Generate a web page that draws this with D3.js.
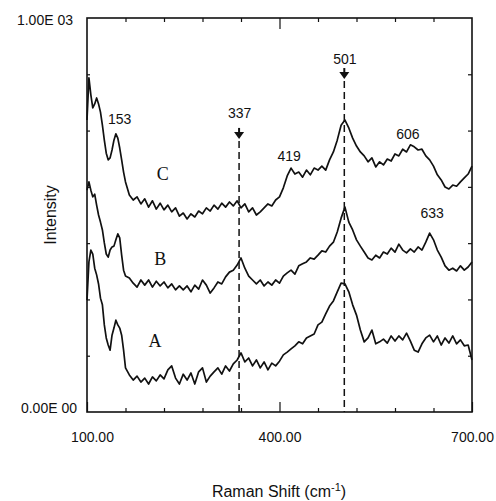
<!DOCTYPE html>
<html>
<head>
<meta charset="utf-8">
<script src="https://cdn.jsdelivr.net/npm/d3@7"></script>
<style>
  html, body { margin: 0; padding: 0; background: #fff; }
  svg { display: block; }
  .tick-lbl { font-family: "Liberation Sans", Arial, sans-serif; fill: #111; }
  .peak-lbl { font-family: "Liberation Sans", Arial, sans-serif; font-size: 14px; fill: #111; }
  .curve-lbl { font-family: "Liberation Serif", "Times New Roman", serif; font-size: 18px; fill: #111; }
  .axis-title { font-family: "Liberation Sans", Arial, sans-serif; font-size: 16px; fill: #111; }
</style>
</head>
<body>
<div id="chart"></div>
<script>
// Raman spectra A, B, C
const xTickValues = [100, 160, 220, 280, 340, 400, 460, 520, 580, 640, 700];
const xLabelled = [100, 400, 700];
const xTickLabels = ["100.00", "400.00", "700.00"];
const yTickLabels = ["0.00E 00", "1.00E 03"];

// sample positions (cm-1), shared by all three spectra
const shift = [100, 103, 106, 109, 112, 115, 118, 121, 124, 127, 130, 133, 136, 139, 142, 145, 148, 151, 154, 157, 160,
  166, 172, 178, 184, 190, 196, 202, 208, 214, 220, 226, 232, 238, 244, 250, 256, 262, 268, 274, 280,
  286, 292, 298, 304, 310, 316, 322, 328, 334, 340, 346, 352, 358, 364, 370, 376, 382, 388, 394, 400,
  406, 412, 418, 424, 430, 436, 442, 448, 454, 460, 466, 472, 478, 484, 490, 496, 502, 508, 514, 520,
  526, 532, 538, 544, 550, 556, 562, 568, 574, 580, 586, 592, 598, 604, 610, 616, 622, 628, 634, 640,
  646, 652, 658, 664, 670, 676, 682, 688, 694, 700];

const intensityA = [284, 381, 411, 401, 365, 348, 325, 289, 272, 221, 188, 170, 157, 195, 213, 233, 221, 213, 195, 157, 112,
  94, 81, 91, 76, 86, 71, 89, 79, 94, 84,
  107, 117, 86, 71, 96, 81, 99, 71, 102, 112,
  76, 91, 102, 112, 96, 117, 104, 122, 132, 150,
  127, 137, 117, 132, 112, 127, 107, 124, 117, 129,
  145, 152, 160, 168, 178, 173, 188, 193, 198, 221,
  228, 249, 269, 282, 305, 327, 325, 305, 272, 246,
  208, 178, 188, 208, 173, 178, 185, 175, 193, 180,
  193, 183, 200, 180, 157, 152, 173, 188, 195, 178,
  193, 170, 188, 175, 193, 173, 183, 168, 170, 132];

const intensityB = [563, 584, 563, 546, 553, 525, 500, 482, 462, 429, 401, 393, 411, 419, 421, 437, 452, 442, 398, 360, 345,
  340, 327, 317, 335, 322, 335, 317, 332, 320, 330,
  315, 325, 310, 320, 310, 320, 305, 322, 312, 335,
  322, 302, 315, 330, 325, 343, 355, 360, 373, 391,
  365, 345, 335, 325, 335, 320, 330, 322, 335, 327,
  345, 353, 360, 350, 371, 376, 381, 391, 388, 398,
  409, 406, 421, 431, 457, 492, 520, 482, 462, 437,
  421, 406, 391, 386, 398, 391, 406, 401, 416, 406,
  426, 411, 404, 414, 406, 419, 411, 431, 454, 437,
  411, 393, 371, 360, 365, 358, 371, 360, 368, 381];

const intensityC = [741, 848, 805, 772, 782, 797, 782, 761, 728, 690, 657, 640, 645, 665, 690, 706, 695, 670, 640, 609, 584,
  551, 538, 546, 528, 541, 520, 536, 515, 530, 513,
  525, 508, 518, 497, 505, 490, 503, 495, 510, 503,
  518, 510, 525, 515, 530, 520, 533, 523, 536, 518,
  528, 508, 518, 500, 508, 518, 528, 523, 538, 546,
  569, 599, 619, 604, 609, 596, 614, 602, 619, 614,
  624, 614, 640, 660, 690, 728, 741, 721, 695, 675,
  660, 650, 635, 645, 622, 635, 627, 642, 637, 655,
  650, 667, 660, 678, 673, 665, 667, 650, 640, 624,
  602, 589, 571, 566, 576, 573, 584, 594, 604, 624];

const peakLabels = [
  { text: "153", shift: 151, at: 731 },
  { text: "337", shift: 338, at: 747 },
  { text: "501", shift: 502, at: 884 },
  { text: "419", shift: 415, at: 636 },
  { text: "606", shift: 600, at: 693 },
  { text: "633", shift: 638, at: 492 }
];
const arrowPeaks = [337, 501];
const arrowTop = [721, 873];

const curveLabels = [
  { text: "C", shift: 218, at: 589 },
  { text: "B", shift: 214, at: 373 },
  { text: "A", shift: 206, at: 165 }
];

(function () {
  const W = 496, H = 501;
  const svg = d3.select("#chart").append("svg")
    .attr("width", W).attr("height", H);

  const x = d3.scaleLinear().domain([100, 700]).range([87, 472]);
  const y = d3.scaleLinear().domain([0, 1000]).range([412, 18]);
  const yTickValues = d3.range(8).map(i => i * 1000 / 7);

  // ---- axes (ticks point inward) ----
  const minorX = xTickValues.filter(v => !xLabelled.includes(v));

  svg.append("g").attr("transform", `translate(0,${y(0)})`)
    .call(d3.axisBottom(x).tickValues(minorX).tickSize(-4).tickFormat(""));
  svg.append("g").attr("class", "x-major").attr("transform", `translate(0,${y(0)})`)
    .call(d3.axisBottom(x).tickValues(xLabelled).tickSize(-10).tickPadding(20)
      .tickFormat((d, i) => xTickLabels[i]));
  svg.append("g").attr("transform", `translate(0,${y(1000)})`)
    .call(d3.axisTop(x).tickValues(minorX).tickSize(-4).tickFormat(""));
  svg.append("g").attr("transform", `translate(0,${y(1000)})`)
    .call(d3.axisTop(x).tickValues([400]).tickSize(-11).tickFormat(""));

  svg.append("g").attr("transform", `translate(${x(100)},0)`)
    .call(d3.axisLeft(y).tickValues(yTickValues.slice(1, -1)).tickSize(-3).tickFormat(""));
  svg.append("g").attr("transform", `translate(${x(700)},0)`)
    .call(d3.axisRight(y).tickValues(yTickValues.slice(1, -1)).tickSize(-4).tickFormat(""));

  svg.selectAll(".domain").remove();
  svg.selectAll(".tick line").attr("stroke", "#111").attr("stroke-width", 1.2);
  svg.selectAll(".tick text")
    .attr("class", "tick-lbl")
    .style("font-size", "14px")
    .attr("font-family", null)
    .attr("font-size", null);
  // first label sits a little right of its tick in the scan
  svg.select(".x-major").selectAll(".tick text").attr("dx", (d, i) => i === 0 ? 5 : 0);

  // frame
  svg.append("rect")
    .attr("x", x(100)).attr("y", y(1000))
    .attr("width", x(700) - x(100)).attr("height", y(0) - y(1000))
    .attr("fill", "none").attr("stroke", "#111").attr("stroke-width", 1.6);

  // y end labels
  svg.append("text").attr("class", "tick-lbl")
    .attr("x", 73).attr("y", y(1000) + 7)
    .attr("text-anchor", "end").style("font-size", "14px")
    .text(yTickLabels[1]);
  svg.append("text").attr("class", "tick-lbl")
    .attr("x", 77).attr("y", y(0) + 1)
    .attr("text-anchor", "end").style("font-size", "14px")
    .text(yTickLabels[0]);

  // ---- dashed guide lines + arrows ----
  arrowPeaks.forEach((p, i) => {
    const cx = x(p);
    const top = y(arrowTop[i]);
    svg.append("line")
      .attr("x1", cx).attr("x2", cx)
      .attr("y1", top + 13).attr("y2", y(0))
      .attr("stroke", "#111").attr("stroke-width", 1.5)
      .attr("stroke-dasharray", "7,4");
    svg.append("line")
      .attr("x1", cx).attr("x2", cx)
      .attr("y1", top).attr("y2", top + 6)
      .attr("stroke", "#111").attr("stroke-width", 2);
    svg.append("path")
      .attr("d", `M${cx - 5},${top + 4} L${cx + 5},${top + 4} L${cx},${top + 11} Z`)
      .attr("fill", "#111");
  });

  // ---- spectra ----
  const line = d3.line()
    .x(d => x(d[0]))
    .y(d => y(d[1]));

  const spectra = [
    d3.zip(shift, intensityA),
    d3.zip(shift, intensityB),
    d3.zip(shift, intensityC)
  ];

  svg.append("g").selectAll("path")
    .data(spectra)
    .join("path")
    .attr("d", line)
    .attr("fill", "none")
    .attr("stroke", "#111")
    .attr("stroke-width", 1.7)
    .attr("stroke-linejoin", "round");

  // ---- labels ----
  svg.append("g").selectAll("text")
    .data(peakLabels)
    .join("text")
    .attr("class", "peak-lbl")
    .attr("x", d => x(d.shift))
    .attr("y", d => y(d.at))
    .attr("text-anchor", "middle")
    .text(d => d.text);

  svg.append("g").selectAll("text")
    .data(curveLabels)
    .join("text")
    .attr("class", "curve-lbl")
    .attr("x", d => x(d.shift))
    .attr("y", d => y(d.at))
    .attr("text-anchor", "middle")
    .text(d => d.text);

  // axis titles
  svg.append("text").attr("class", "axis-title")
    .attr("transform", `translate(56,${(y(0) + y(1000)) / 2}) rotate(-90)`)
    .attr("text-anchor", "middle")
    .text("Intensity");

  const xt = svg.append("text").attr("class", "axis-title")
    .attr("x", 279).attr("y", 497)
    .attr("text-anchor", "middle");
  xt.append("tspan").text("Raman Shift (cm");
  xt.append("tspan").attr("dy", -6).style("font-size", "11px").text("-1");
  xt.append("tspan").attr("dy", 6).text(")");
})();
</script>
</body>
</html>
